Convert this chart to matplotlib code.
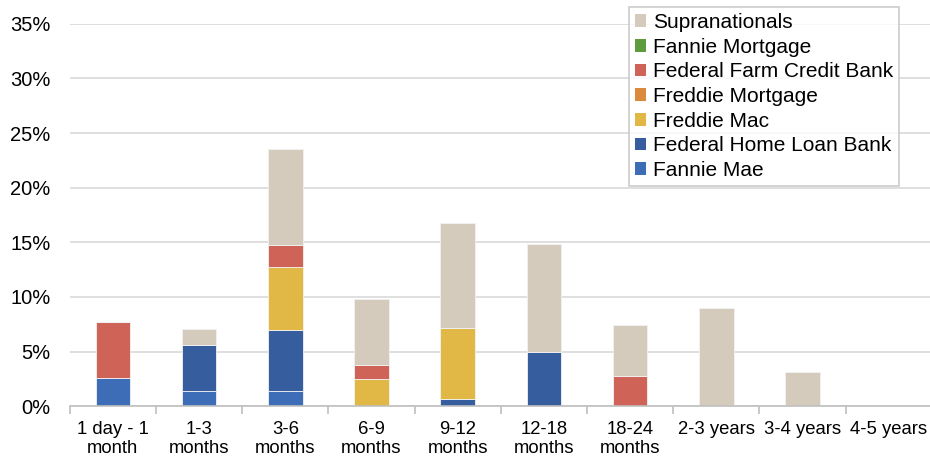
import matplotlib
matplotlib.use('Agg')
import matplotlib.pyplot as plt
import numpy as np
from matplotlib.ticker import PercentFormatter, FixedLocator

plt.rcParams['font.family'] = ['Liberation Sans', 'DejaVu Sans']

categories = ["1 day - 1\nmonth", "1-3\nmonths", "3-6\nmonths", "6-9\nmonths",
              "9-12\nmonths", "12-18\nmonths", "18-24\nmonths", "2-3 years",
              "3-4 years", "4-5 years"]

# percent of portfolio, stacked bottom to top
fannie_mae = [2.6, 1.35, 1.4, 0, 0, 0, 0, 0, 0, 0]
fhlb = [0, 4.25, 5.6, 0, 0.7, 5.0, 0, 0, 0, 0]
freddie_mac = [0, 0, 5.7, 2.45, 6.5, 0, 0, 0, 0, 0]
freddie_mortgage = [0, 0, 0, 0, 0, 0, 0, 0, 0, 0]
ffcb = [5.1, 0, 2.05, 1.3, 0, 0, 2.8, 0, 0, 0]
fannie_mortgage = [0, 0, 0, 0, 0, 0, 0, 0, 0, 0]
supranationals = [0, 1.45, 8.8, 6.05, 9.55, 9.85, 4.65, 8.95, 3.15, 0]

series = [
    ("Fannie Mae", fannie_mae, "#3E6DB8"),
    ("Federal Home Loan Bank", fhlb, "#365E9E"),
    ("Freddie Mac", freddie_mac, "#E1B746"),
    ("Freddie Mortgage", freddie_mortgage, "#DB8A3D"),
    ("Federal Farm Credit Bank", ffcb, "#D06357"),
    ("Fannie Mortgage", fannie_mortgage, "#5E9A3E"),
    ("Supranationals", supranationals, "#D5CBBC"),
]

fig = plt.figure(figsize=(9.3, 4.59), dpi=100)
ax = fig.add_axes([0.075, 0.115, 0.927, 0.833])

x = np.arange(len(categories))
bottom = np.zeros(len(categories))
for name, vals, color in series:
    vals = np.array(vals) / 100
    ax.bar(x, vals, 0.4, bottom=bottom, color=color, label=name,
           edgecolor="#F2F2F2", linewidth=0.6)
    bottom += vals

ax.set_xlim(-0.5, len(categories) - 0.5)
ax.set_ylim(0, 0.35)
ax.set_yticks(np.arange(0, 0.351, 0.05))
ax.yaxis.set_major_formatter(PercentFormatter(1.0, decimals=0))
ax.grid(axis="y", color="#D9D9D9", linewidth=1.2)
ax.set_axisbelow(True)

ax.set_xticks(x)
ax.set_xticklabels(categories, fontsize=13.3, linespacing=1.1)
ax.xaxis.set_minor_locator(FixedLocator(np.arange(-0.5, len(categories), 1)))
ax.tick_params(axis="x", which="major", length=0, pad=11)
ax.tick_params(axis="x", which="minor", length=6, color="#BFBFBF", width=1.2)
ax.tick_params(axis="y", length=0, labelsize=14.5, pad=14)

for side in ["top", "right", "left"]:
    ax.spines[side].set_visible(False)
ax.spines["bottom"].set_color("#BFBFBF")
ax.spines["bottom"].set_linewidth(1.2)

handles, labels = ax.get_legend_handles_labels()
leg = ax.legend(handles[::-1], labels[::-1], loc="upper right",
                bbox_to_anchor=(0.962, 1.0445), fontsize=15, frameon=True,
                fancybox=False, edgecolor="#BFBFBF", handlelength=0.55,
                handleheight=0.55, handletextpad=0.3, labelspacing=0.27,
                borderpad=0.3, borderaxespad=0)
leg.get_frame().set_linewidth(1.2)
for h in leg.legend_handles:
    h.set_edgecolor("none")

fig.savefig("out.png", dpi=100)
